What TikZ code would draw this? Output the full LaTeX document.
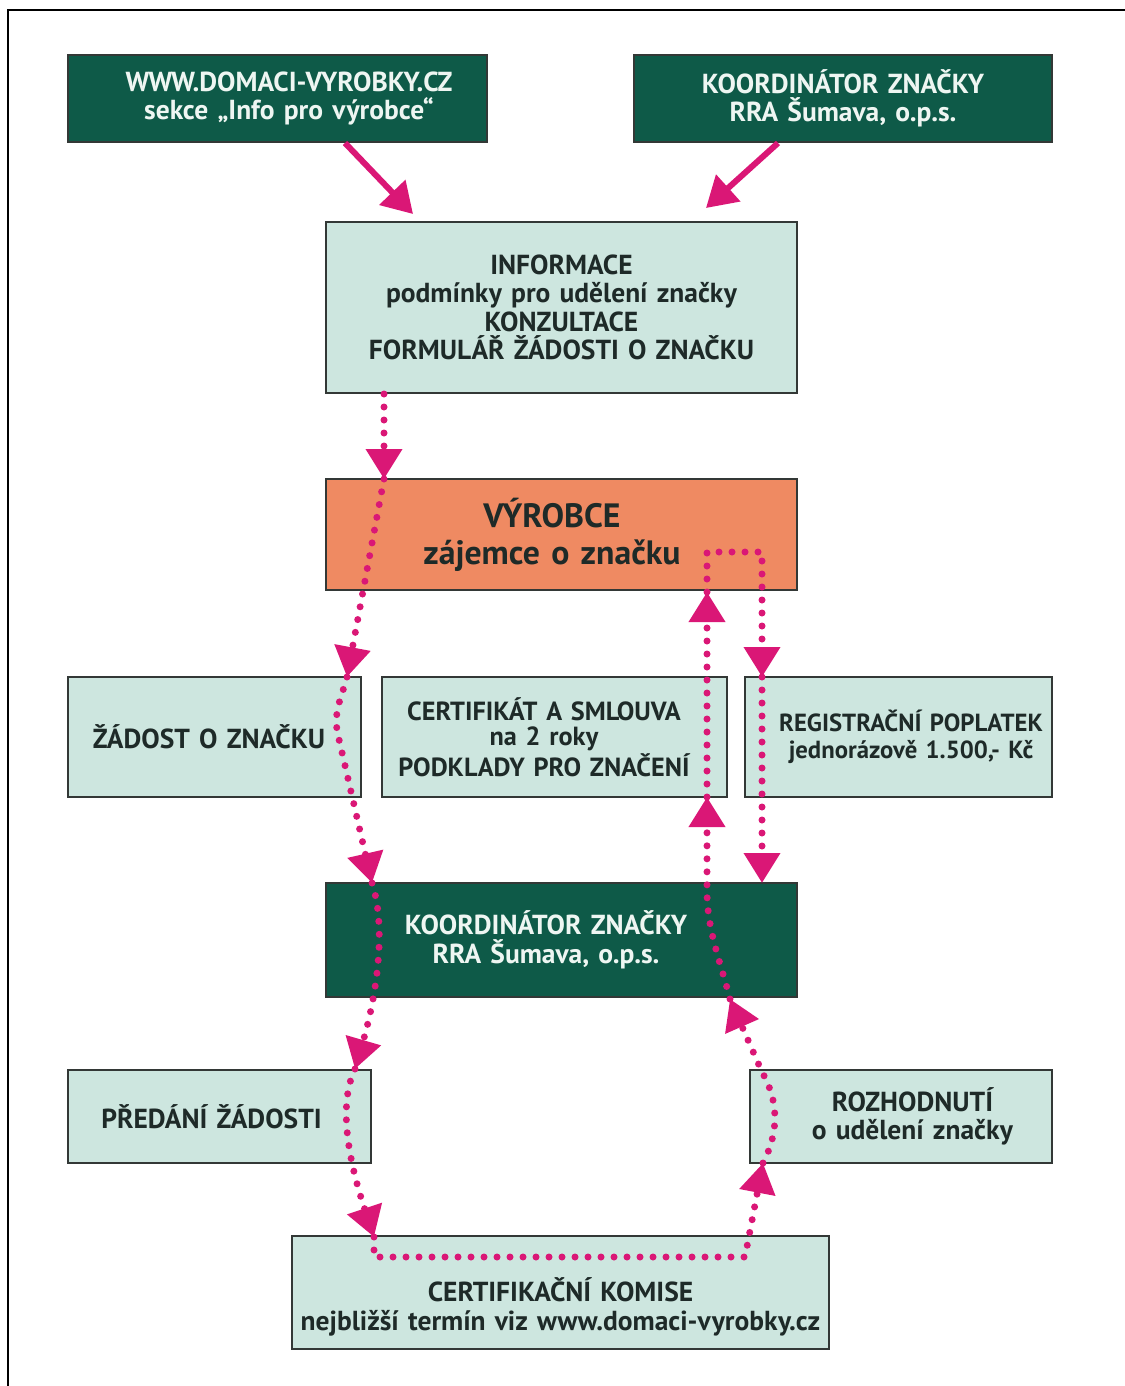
\documentclass[tikz,border=0pt]{standalone}
\usepackage{fontspec}
\setmainfont{PT Sans}
\usetikzlibrary{arrows.meta}

\definecolor{forest}{HTML}{0E5A48}
\definecolor{mint}{HTML}{CDE6DF}
\definecolor{salmon}{HTML}{EF8A62}
\definecolor{flowpink}{HTML}{DA1776}
\definecolor{boxline}{HTML}{333836}
\definecolor{ink}{HTML}{1E2A28}
\definecolor{paper}{HTML}{EEF6F2}

% lines of a box moved sideways (by half of #1)
\newcommand{\nudge}[2]{\leftskip=#1 plus 1fil\rightskip=0pt plus 1fil
    \parfillskip=0pt\let\\=\par #2\par}

\tikzset{
  box/.style={draw=boxline, line width=0.8pt, fill=mint, text=ink, align=center,
    inner sep=0pt, font=\bfseries\fontsize{11}{11.4}\selectfont},
  boxsize/.style 2 args={minimum width=#1, text width=#1, minimum height=#2},
  darkbox/.style={box, fill=forest, text=paper},
  hotbox/.style={box, fill=salmon, font=\bfseries\fontsize{13.5}{14.8}\selectfont},
  flow/.style={draw=flowpink, line width=2.8pt, dash pattern=on 0pt off 5.2pt, line cap=round},
  push/.style={draw=flowpink, line width=2.4pt},
  pinkhead/.style={-{Triangle[width=14pt,length=12pt]}},
}

\begin{document}
\begin{tikzpicture}[x=0.4pt,y=-0.4pt]
    \useasboundingbox (0,0) rectangle (1125,1386);
    % frame
    \draw[line width=1pt] (8,1386) |- (1125,10);

    % sources of information
    \node[darkbox, boxsize={167.6pt}{34.8pt}] (web) at (277.5,98.5)
        {\nudge{9.2pt}{WWW.DOMACI-VYROBKY.CZ\\sekce „Info pro výrobce“}};
    \node[darkbox, boxsize={167.2pt}{34.8pt}] (koordtop) at (843,98.5)
        {KOORDINÁTOR ZNAČKY\\RRA Šumava, o.p.s.};

    \node[box, boxsize={188.4pt}{68.4pt}] (info) at (561.5,307.5)
        {INFORMACE\\podmínky pro udělení značky\\KONZULTACE\\FORMULÁŘ ŽÁDOSTI O ZNAČKU};

    % producer
    \node[hotbox, boxsize={188.4pt}{44.4pt}] (vyrobce) at (561.5,534.5)
        {\nudge{-7.6pt}{VÝROBCE\\zájemce o značku}};

    % middle row
    \node[box, boxsize={117.2pt}{48pt}] (zadost) at (214.5,737)
        {\nudge{-4.4pt}{ŽÁDOST O ZNAČKU}};
    \node[box, boxsize={138pt}{48pt},
        font=\bfseries\fontsize{10.5}{10}\selectfont] (cert) at (554.5,737)
        {\nudge{-8.4pt}{CERTIFIKÁT A SMLOUVA\\na 2 roky\\PODKLADY PRO ZNAČENÍ}};
    \node[box, boxsize={122.8pt}{48pt},
        font=\bfseries\fontsize{9.9}{10.8}\selectfont] (reg) at (898.5,737)
        {\nudge{10pt}{REGISTRAČNÍ POPLATEK\\jednorázově 1.500,- Kč}};

    \node[darkbox, boxsize={188.4pt}{45.6pt}] (koord) at (561.5,940)
        {\nudge{-12.4pt}{KOORDINÁTOR ZNAČKY\\RRA Šumava, o.p.s.}};

    % lower row
    \node[box, boxsize={121.2pt}{37.2pt}] (predani) at (219.5,1116.5)
        {\nudge{-6.4pt}{PŘEDÁNÍ ŽÁDOSTI}};
    \node[box, boxsize={120.8pt}{37.2pt}] (rozh) at (901,1116.5)
        {\nudge{9.2pt}{ROZHODNUTÍ\\o udělení značky}};

    \node[box, boxsize={214.8pt}{45.2pt}] (komise) at (560.5,1292.5)
        {\rule{0pt}{21pt}CERTIFIKAČNÍ KOMISE\\nejbližší termín viz www.domaci-vyrobky.cz};

    % solid arrows into the information box
    \coordinate (webend) at (345,143);
    \coordinate (webtip) at (413,214);
    \coordinate (koordend) at (778,143);
    \coordinate (koordtip) at (706,208);
    \draw[push, pinkhead] (webend) -- (webtip);
    \draw[push, pinkhead] (koordend) -- (koordtip);

    % dotted way of the application
    \coordinate (a0) at (384,394);
    \coordinate (a1) at (384,479);
    \coordinate (a2) at (347,677);
    \coordinate (a3) at (372,883);
    \coordinate (a4) at (355,1069);
    \coordinate (a5) at (374,1237);
    \coordinate (b0) at (745,1257);
    \coordinate (b1) at (763,1163);
    \coordinate (b2) at (730,999);
    \coordinate (b3) at (707,797);
    \coordinate (b4) at (707,592);
    \coordinate (b5) at (762,677);
    \coordinate (b6) at (762,883);

    \draw[flow, pinkhead] (a0) -- (a1);
    \draw[flow, pinkhead] (a1) -- (a2);
    \draw[flow, pinkhead] (a2) to[out=-105,in=103] (338,735) -- (a3);
    \draw[flow, pinkhead] (a3) .. controls (386,925) and (378,990) .. (a4);
    \draw[flow, pinkhead] (a4) .. controls (340,1100) and (345,1150) .. (a5);
    \draw[flow, pinkhead] (a5) |- (b0) -- (b1);
    \draw[flow, pinkhead] (b1) .. controls (780,1130) and (778,1100) .. (762,1072) -- (b2);
    \draw[flow, pinkhead] (b2) .. controls (720,960) and (707,930) .. (707,890) -- (b3);
    \draw[flow, pinkhead] (b3) -- (b4);
    \draw[flow, pinkhead] (b4) -- (707,552) -- (762,552) -- (b5);
    \draw[flow, pinkhead] (b5) -- (b6);
\end{tikzpicture}
\end{document}
